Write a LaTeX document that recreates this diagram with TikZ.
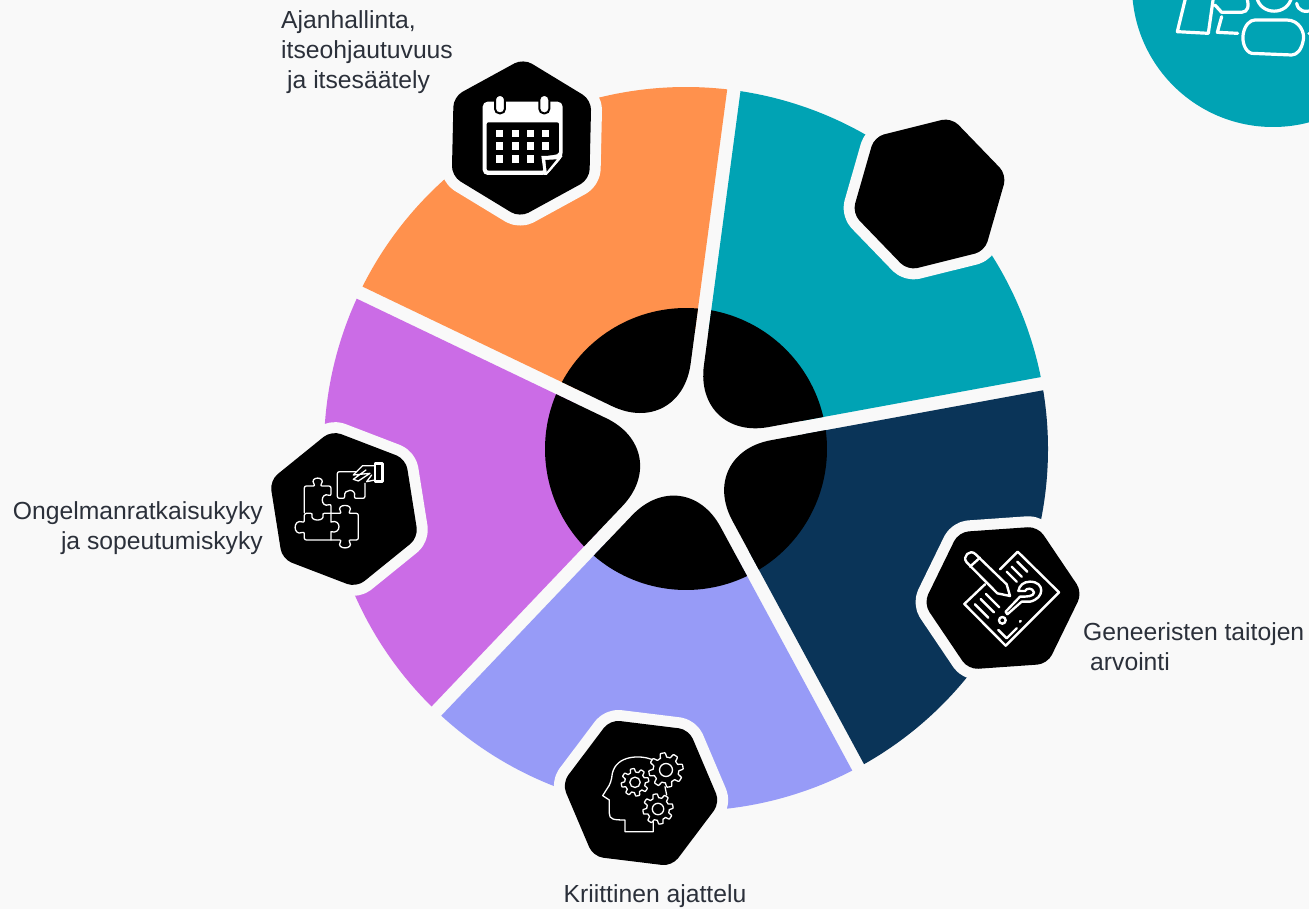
\documentclass[tikz,border=0pt]{standalone}
\usepackage{fontspec}
\setmainfont{Liberation Sans}
\usetikzlibrary{positioning, calc}
\definecolor{pagebg}{HTML}{F9F9F9}
\definecolor{tealseg}{HTML}{00A3B4}
\definecolor{orangeseg}{HTML}{FF914D}
\definecolor{purpleseg}{HTML}{CB6CE6}
\definecolor{periseg}{HTML}{979BF7}
\definecolor{navyseg}{HTML}{0A3458}
\definecolor{labeltext}{HTML}{2B303A}

\begin{document}
\begin{tikzpicture}[x=1pt, y=1pt,
		label/.style={text=labeltext, font=\fontsize{24.7}{30}\selectfont, inner sep=0pt},
		iconthin/.style={draw=white, line width=1.3pt, line join=round, line cap=round},
		iconmid/.style={draw=white, line width=2.4pt, line join=round, line cap=round},
		iconthick/.style={draw=white, line width=3.2pt, line join=round, line cap=round},
		gearicon/.pic={
			\draw[iconthin] plot[domain=0:360, samples=193, variable=\t] ({\t}:{15+2.2*max(-1,min(1,2.5*sin(8*\t)))}) -- cycle;
			\draw[iconthin] (0,0) circle (6.5);
		}]
	\useasboundingbox (0,0) rectangle (1309,-909);
	\clip (0,0) rectangle (1309,-909);
	\fill[pagebg] (0,0) rectangle (1309,-909);

	% Teal corner circle
	\fill[tealseg] (1273,14) circle (141);
	\begin{scope}[shift={(1100,0)}, x=0.3333pt, y=-0.3333pt]
		\draw[iconthick] (260,-20) -- (232,95) -- (325,100) -- (342,-20);
		\draw[iconthick] (345,15) -- (365,37) -- (425,37) .. controls (445,35) and (448,20) .. (440,-10);
		\draw[iconthick] (365,50) -- (352,97) -- (413,100);
		\draw[iconthick] (470,-10) .. controls (480,48) and (565,48) .. (575,-10);
		\draw[iconthick] (590,10) .. controls (595,35) and (615,38) .. (640,30);
		\draw[iconthick] (465,60) -- (560,60) .. controls (600,60) and (615,100) .. (610,120) .. controls (605,150) and (590,165) .. (575,165) -- (455,160) .. controls (435,155) and (425,125) .. (430,100) .. controls (435,75) and (450,60) .. (465,60) -- cycle;
		\draw[iconthick] (627,100) -- (640,100);
	\end{scope}

	% Segments
	\begin{scope}[shift={(686,-449)}]
		\foreach \ang/\col in {10.4/tealseg, 82.4/orangeseg, 154.4/purpleseg, 226.4/periseg, 298.4/navyseg} {
			\fill[\col] ({\ang+3.2}:120pt) -- ({\ang+1.06}:362pt) arc[start angle={\ang+1.06}, end angle={\ang+70.94}, radius=362pt] -- ({\ang+68.8}:120pt) -- cycle;
			\fill[black] ({\ang+2.72}:141pt) [rounded corners=76pt] -- ({\ang+36}:11.4pt) [sharp corners] -- ({\ang+69.28}:141pt) arc[start angle={\ang+69.28}, end angle={\ang+2.72}, radius=141pt] -- cycle;
		}
	\end{scope}

	% Hexagons
	\foreach \cx/\cy/\rot in {521.5/138/88.7, 929.5/194/74, 1003/598/4, 641/793/-7, 344/509/99} {
		\begin{scope}[shift={(\cx,-\cy)}, rotate=\rot]
			\draw[pagebg, fill=pagebg, line width=22pt, line join=round, rounded corners=10pt] (0:79.5) -- (60:79.5) -- (120:79.5) -- (180:79.5) -- (240:79.5) -- (300:79.5) -- cycle;
			\fill[black, rounded corners=10pt] (0:79.5) -- (60:79.5) -- (120:79.5) -- (180:79.5) -- (240:79.5) -- (300:79.5) -- cycle;
		\end{scope}
	}

	% Calendar icon
	\begin{scope}[shift={(440,-50)}, x=0.3333pt, y=-0.3333pt]
		\fill[white, rounded corners=5pt] (128,155) -- (368,155) -- (368,320) -- (320,375) -- (128,375) -- cycle;
		\fill[black, rounded corners=2pt] (140,217) -- (357,217) -- (357,312) -- (308,320) -- (312,362) -- (140,362) -- cycle;
		\fill[black] (322,362) -- (357,318) -- (312,325) -- cycle;
		\fill[white] (304,318) -- (368,318) -- (320,375) -- (312,375) -- cycle;
		\fill[black] (316,330) -- (350,328) -- (320,365) -- cycle;
		\foreach \rx in {180, 313} {
			\draw[black, fill=white, line width=2pt, rounded corners=4.5pt] (\rx-15,135) rectangle (\rx+15,190);
		}
		\foreach \qx in {178, 226, 271, 316} {
			\foreach \qy in {250, 288} {
				\fill[white] (\qx-11,\qy-11) rectangle (\qx+11,\qy+11);
			}
		}
		\foreach \qx in {178, 226, 271} {
			\fill[white] (\qx-11,327-11) rectangle (\qx+11,327+11);
		}
	\end{scope}

	% Paper icon
	\begin{scope}[shift={(910,-515)}, x=0.3333pt, y=-0.3333pt]
		\draw[iconmid] (270,163) -- (323,110) -- (447,232) -- (287,392) -- (163,267) -- (225,208);
		\draw[iconmid] (170,142) .. controls (155,125) and (180,100) .. (197,118) -- (290,208) -- (300,243) -- (262,235) -- cycle;
		\draw[iconmid] (180,155) -- (210,128);
		\draw[iconmid] (290,170) -- (320,200) (305,155) -- (335,185) (322,140) -- (352,170);
		\draw[iconmid] (195,268) -- (235,308) (212,252) -- (252,292) (228,237) -- (268,277);
		\draw[iconmid] (292,298) -- (335,260) -- (360,260) .. controls (405,250) and (405,200) .. (360,200) .. controls (340,200) and (328,212) .. (325,228) -- (345,228) .. controls (350,218) and (368,218) .. (372,232) .. controls (372,245) and (350,245) .. (330,245) -- (287,290) -- (292,298);
		\draw[iconmid] (277,316) circle (10);
		\draw[iconmid] (265,345) -- (290,370) -- (320,340) (330,320) -- (332,318);
	\end{scope}

	% Head icon
	\begin{scope}[shift={(550,-700)}, x=0.3333pt, y=-0.3333pt]
		\draw[iconthin] (305,178) .. controls (270,165) and (200,165) .. (187,220) .. controls (185,240) and (180,255) .. (172,265) -- (158,287) -- (178,300) -- (178,340) .. controls (178,358) and (190,360) .. (225,360) -- (225,395) -- (310,395) -- (310,365);
		\draw[iconthin] (345,260) -- (350,285);
	\end{scope}
	\pic at (666,-770) {gearicon};
	\pic[scale=0.8] at (635,-782.3) {gearicon};
	\pic[scale=0.88] at (658,-809) {gearicon};

	% Puzzle icon
	\begin{scope}[shift={(260,-420)}, x=0.3333pt, y=-0.3333pt]
		\draw[iconthin, rounded corners=2pt] (133,278) -- (133,198) -- (166,198) .. controls (145,168) and (201,168) .. (180,198) -- (213,198) -- (213,228) .. controls (180,215) and (180,265) .. (213,252) -- (213,278);
		\draw[iconthin, rounded corners=2pt] (133,280) -- (158,280) .. controls (150,305) and (195,305) .. (187,280) -- (245,280) .. controls (225,250) and (285,250) .. (265,280) -- (295,280) -- (295,360) -- (265,360) .. controls (285,390) and (225,390) .. (245,360) -- (133,360) -- (133,335) .. controls (98,350) and (98,295) .. (133,308) -- cycle;
		\draw[iconthin] (213,280) -- (213,306) .. controls (245,295) and (245,345) .. (213,335) -- (213,360);
		\draw[iconthin, rounded corners=2pt] (290,155) -- (232,155) -- (232,235) -- (255,235) .. controls (250,205) and (290,205) .. (282,235) -- (315,235) -- (315,190);
		\draw[iconmid] (345,130) -- (368,130) -- (368,185) -- (345,185) -- cycle;
		\draw[iconthin] (345,137) -- (308,137) -- (280,165) -- (330,160) -- (295,183) -- (280,178) -- (318,150);
		\draw[iconthin] (345,180) -- (320,185) -- (335,165);
	\end{scope}

	% Labels
	\node[label, align=left, anchor=west] (lblcalendar) at (281,-52) {Ajanhallinta,\\itseohjautuvuus\\\hspace*{6pt}ja itsesäätely};
	\node[label, align=right, anchor=east] (lblpuzzle) at (263,-528) {Ongelmanratkaisukyky\\ja sopeutumiskyky};
	\node[label, anchor=center] (lblhead) at (655,-896) {Kriittinen ajattelu};
	\node[label, align=left, anchor=west] (lblpaper) at (1083,-647) {Geneeristen taitojen\\\hspace*{7pt}arvointi};
\end{tikzpicture}
\end{document}
